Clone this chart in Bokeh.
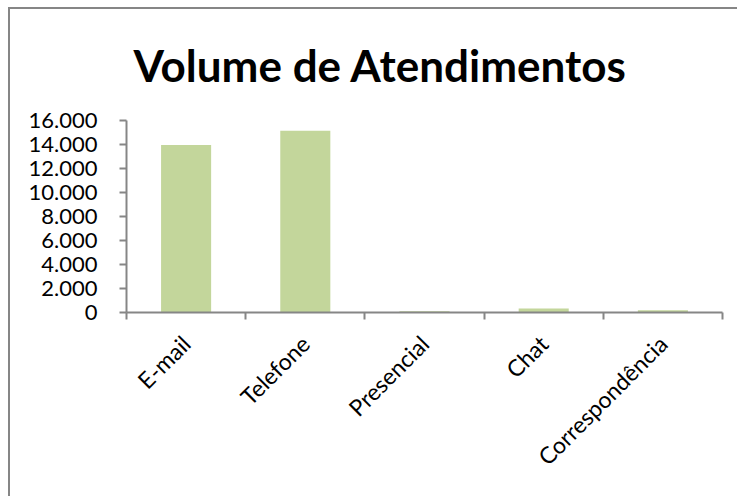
import math
from bokeh.plotting import figure
from bokeh.models import (Range1d, LinearAxis, FixedTicker, CustomJSTickFormatter,
                          ColumnDataSource)
from bokeh.embed import file_html
from bokeh.resources import INLINE

categories = ["E-mail", "Telefone", "Presencial", "Chat", "Correspondência"]
volumes = [13950, 15150, 110, 330, 180]
y_ticks = [0, 2000, 4000, 6000, 8000, 10000, 12000, 14000, 16000]

positions = [i + 0.5 for i in range(len(categories))]
boundaries = list(range(len(categories) + 1))

src = ColumnDataSource(dict(x=positions, top=volumes, cat=categories))

AX = "#868686"
FONT = "Lato"

p = figure(output_backend="svg", toolbar_location=None,
           frame_width=596, frame_height=192,
           min_border_left=116, min_border_top=111,
           min_border_right=15, min_border_bottom=184,
           x_range=Range1d(0, len(categories)), y_range=Range1d(0, 16000),
           x_axis_type=None, y_axis_type=None,
           title="Volume de Atendimentos")
p.styles = {"margin-left": "8px", "margin-top": "7px",
            "border-left": f"2px solid {AX}", "border-top": f"2px solid {AX}",
            "border-right": "none", "border-bottom": "none"}
p.outline_line_color = None
p.xgrid.visible = False
p.ygrid.visible = False
p.background_fill_color = "white"
p.border_fill_color = "white"

p.title.text_font = FONT
p.title.text_font_style = "bold"
p.title.text_font_size = "44px"
p.title.text_color = "black"
p.title.align = "left"
p.title.vertical_align = "top"
p.title.standoff = 56
p.title.offset = 7

p.vbar(x="x", top="top", width=0.42, source=src, color="#C3D69B", line_color=None)

yax = LinearAxis(ticker=FixedTicker(ticks=y_ticks))
yax.formatter = CustomJSTickFormatter(code="""
    return String(Math.round(tick)).replace(/\\B(?=(\\d{3})+(?!\\d))/g, '.');
""")
yax.axis_line_color = AX
yax.axis_line_width = 2
yax.major_tick_line_color = AX
yax.major_tick_line_width = 2
yax.major_tick_out = 7
yax.major_tick_in = 0
yax.minor_tick_line_color = None
yax.major_label_text_font = FONT
yax.major_label_text_font_size = "22px"
yax.major_label_text_color = "black"
yax.major_label_standoff = 22
p.add_layout(yax, "left")

xax = LinearAxis(ticker=FixedTicker(ticks=positions, minor_ticks=boundaries))
xax.major_label_overrides = {pos: c for pos, c in zip(positions, categories)}
xax.axis_line_color = AX
xax.axis_line_width = 2
xax.major_tick_line_color = None
xax.major_tick_out = 0
xax.major_tick_in = 0
xax.minor_tick_line_color = AX
xax.minor_tick_line_width = 2
xax.minor_tick_out = 7
xax.minor_tick_in = 0
xax.major_label_orientation = math.pi / 4
xax.major_label_text_font = FONT
xax.major_label_text_font_size = "23px"
xax.major_label_text_color = "black"
xax.major_label_standoff = 20
p.add_layout(xax, "below")

open("out.html", "w").write(file_html(p, INLINE))
